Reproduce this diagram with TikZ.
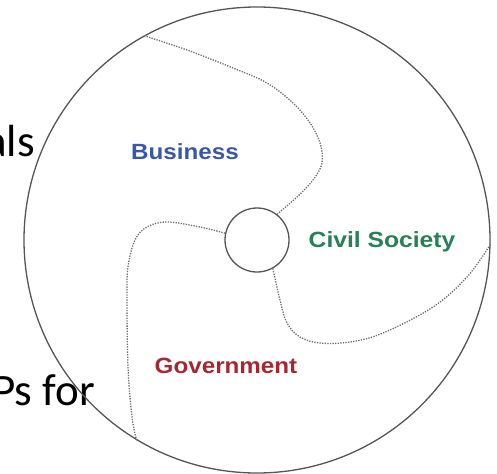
\documentclass[tikz,border=0pt]{standalone}
\usepackage{fontspec}
\setmainfont{Carlito}
\newfontfamily\labelfont{Liberation Sans}
\definecolor{bizblue}{RGB}{58,88,168}
\definecolor{civgreen}{RGB}{38,128,88}
\definecolor{govred}{RGB}{168,38,48}
\definecolor{ringgray}{RGB}{85,85,85}
\tikzset{
  ring/.style={draw=ringgray, line width=1.3pt, circle, inner sep=0pt},
  sector/.style={draw=ringgray!85, dash pattern=on 1.3pt off 1.3pt, line width=1.3pt},
  sectorlabel/.style={font=\labelfont\bfseries\fontsize{22}{26}\selectfont, inner sep=0pt},
  slidetext/.style={font=\fontsize{45}{54}\selectfont, inner sep=0pt, anchor=base east}
}
\begin{document}
\begin{tikzpicture}[x=1pt, y=-1pt]
\useasboundingbox (0,0) rectangle (497,473);
\node[slidetext] (als) at (35,157) {als};
\node[slidetext] (psfor) at (95,405) {Ps for};
\node[ring, minimum size=466pt] (big) at (257,240) {};
\node[ring, minimum size=64pt] (hub) at (257,240) {};
\draw[sector] plot[smooth, tension=0.6] coordinates {(hub.52) (297,197) (313,180) (322,163) (320,143) (310,123) (293,103) (267,83) (233,68) (187,50) (big.119)};
\draw[sector] plot[smooth, tension=0.6] coordinates {(hub.168) (200,227) (167,222) (147,227) (135,240) (128,267) (127,300) (128,367) (132,417) (big.-121)};
\draw[sector] plot[smooth, tension=0.6] coordinates {(hub.-61) (280,300) (287,323) (300,337) (320,343) (350,342) (383,333) (433,307) (467,277) (big.-1)};
\node[sectorlabel, text=bizblue] (biz) at (185,152) {\scalebox{1.1}[1]{Business}};
\node[sectorlabel, text=civgreen] (civ) at (382,242) {\scalebox{1.12}[1]{Civil Society}};
\node[sectorlabel, text=govred] (gov) at (226,366) {\scalebox{1.1}[1]{Government}};
\end{tikzpicture}
\end{document}
